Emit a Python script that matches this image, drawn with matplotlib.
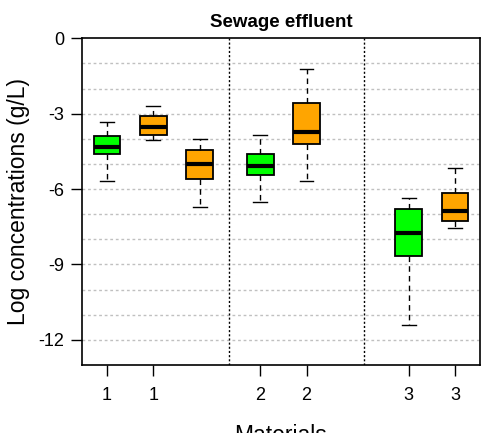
import matplotlib
matplotlib.use('Agg')
import numpy as np
import matplotlib.pyplot as plt

plt.rcParams['font.family'] = ['Liberation Sans', 'DejaVu Sans']

# box statistics (whisker low, Q1, median, Q3, whisker high)
positions = [1, 2, 3, 4.3, 5.3, 7.5, 8.5]
box_colors = ['#00FF00', '#FFA500', '#FFA500', '#00FF00', '#FFA500', '#00FF00', '#FFA500']
whislo = [-5.69, -4.06, -6.73, -6.53, -5.69, -11.41, -7.56]
q1 = [-4.62, -3.83, -5.60, -5.42, -4.22, -8.67, -7.28]
med = [-4.34, -3.51, -5.02, -5.10, -3.73, -7.76, -6.89]
q3 = [-3.87, -3.11, -4.46, -4.62, -2.59, -6.81, -6.17]
whishi = [-3.31, -2.71, -4.02, -3.83, -1.24, -6.37, -5.18]

tick_pos = [1, 2, 4.3, 5.3, 7.5, 8.5]
tick_labels = ['1', '1', '2', '2', '3', '3']
separators = [3.63, 6.54]
grid_levels = list(range(-1, -13, -1))

fig = plt.figure(figsize=(5, 4.33), dpi=100)
ax = fig.add_axes([0.164, 0.157, 0.796, 0.7545])

for g in grid_levels:
    ax.axhline(g, color='#c0c0c0', lw=1, ls=(0, (2, 2)), zorder=0)
for s in separators:
    ax.axvline(s, color='black', lw=1, ls=(0, (1.5, 1.5)), zorder=1)

stats = []
for i in range(len(positions)):
    stats.append(dict(whislo=whislo[i], q1=q1[i], med=med[i], q3=q3[i],
                      whishi=whishi[i], fliers=[]))

bp = ax.bxp(stats, positions=positions, widths=0.58, patch_artist=True,
            showfliers=False,
            boxprops=dict(edgecolor='black', linewidth=1.3),
            medianprops=dict(color='black', linewidth=3, solid_capstyle='butt'),
            whiskerprops=dict(color='black', linewidth=1, linestyle=(0, (4, 3))),
            capprops=dict(color='black', linewidth=1), capwidths=0.3,
            manage_ticks=False)
for patch, c in zip(bp['boxes'], box_colors):
    patch.set_facecolor(c)
    patch.set_zorder(2)

ax.set_xlim(0.461, 9.039)
ax.set_ylim(-13, 0)
ax.set_xticks(tick_pos)
ax.set_xticklabels(tick_labels)
ax.set_yticks([0, -3, -6, -9, -12])
ax.set_yticklabels(['0', '-3', '-6', '-9', '-12'])
ax.tick_params(axis='x', length=8, width=1, labelsize=13, pad=8, direction='out')
ax.tick_params(axis='y', length=8, width=1, labelsize=13, pad=5, direction='out')

for sp in ax.spines.values():
    sp.set_linewidth(1.2)

ax.set_title('Sewage effluent', fontsize=13.5, fontweight='bold', pad=8)
ax.set_ylabel('Log concentrations (g/L)', fontsize=16.5, labelpad=6)
ax.set_xlabel('Materials', fontsize=16.5, labelpad=14)

fig.savefig('out.png', dpi=100)
